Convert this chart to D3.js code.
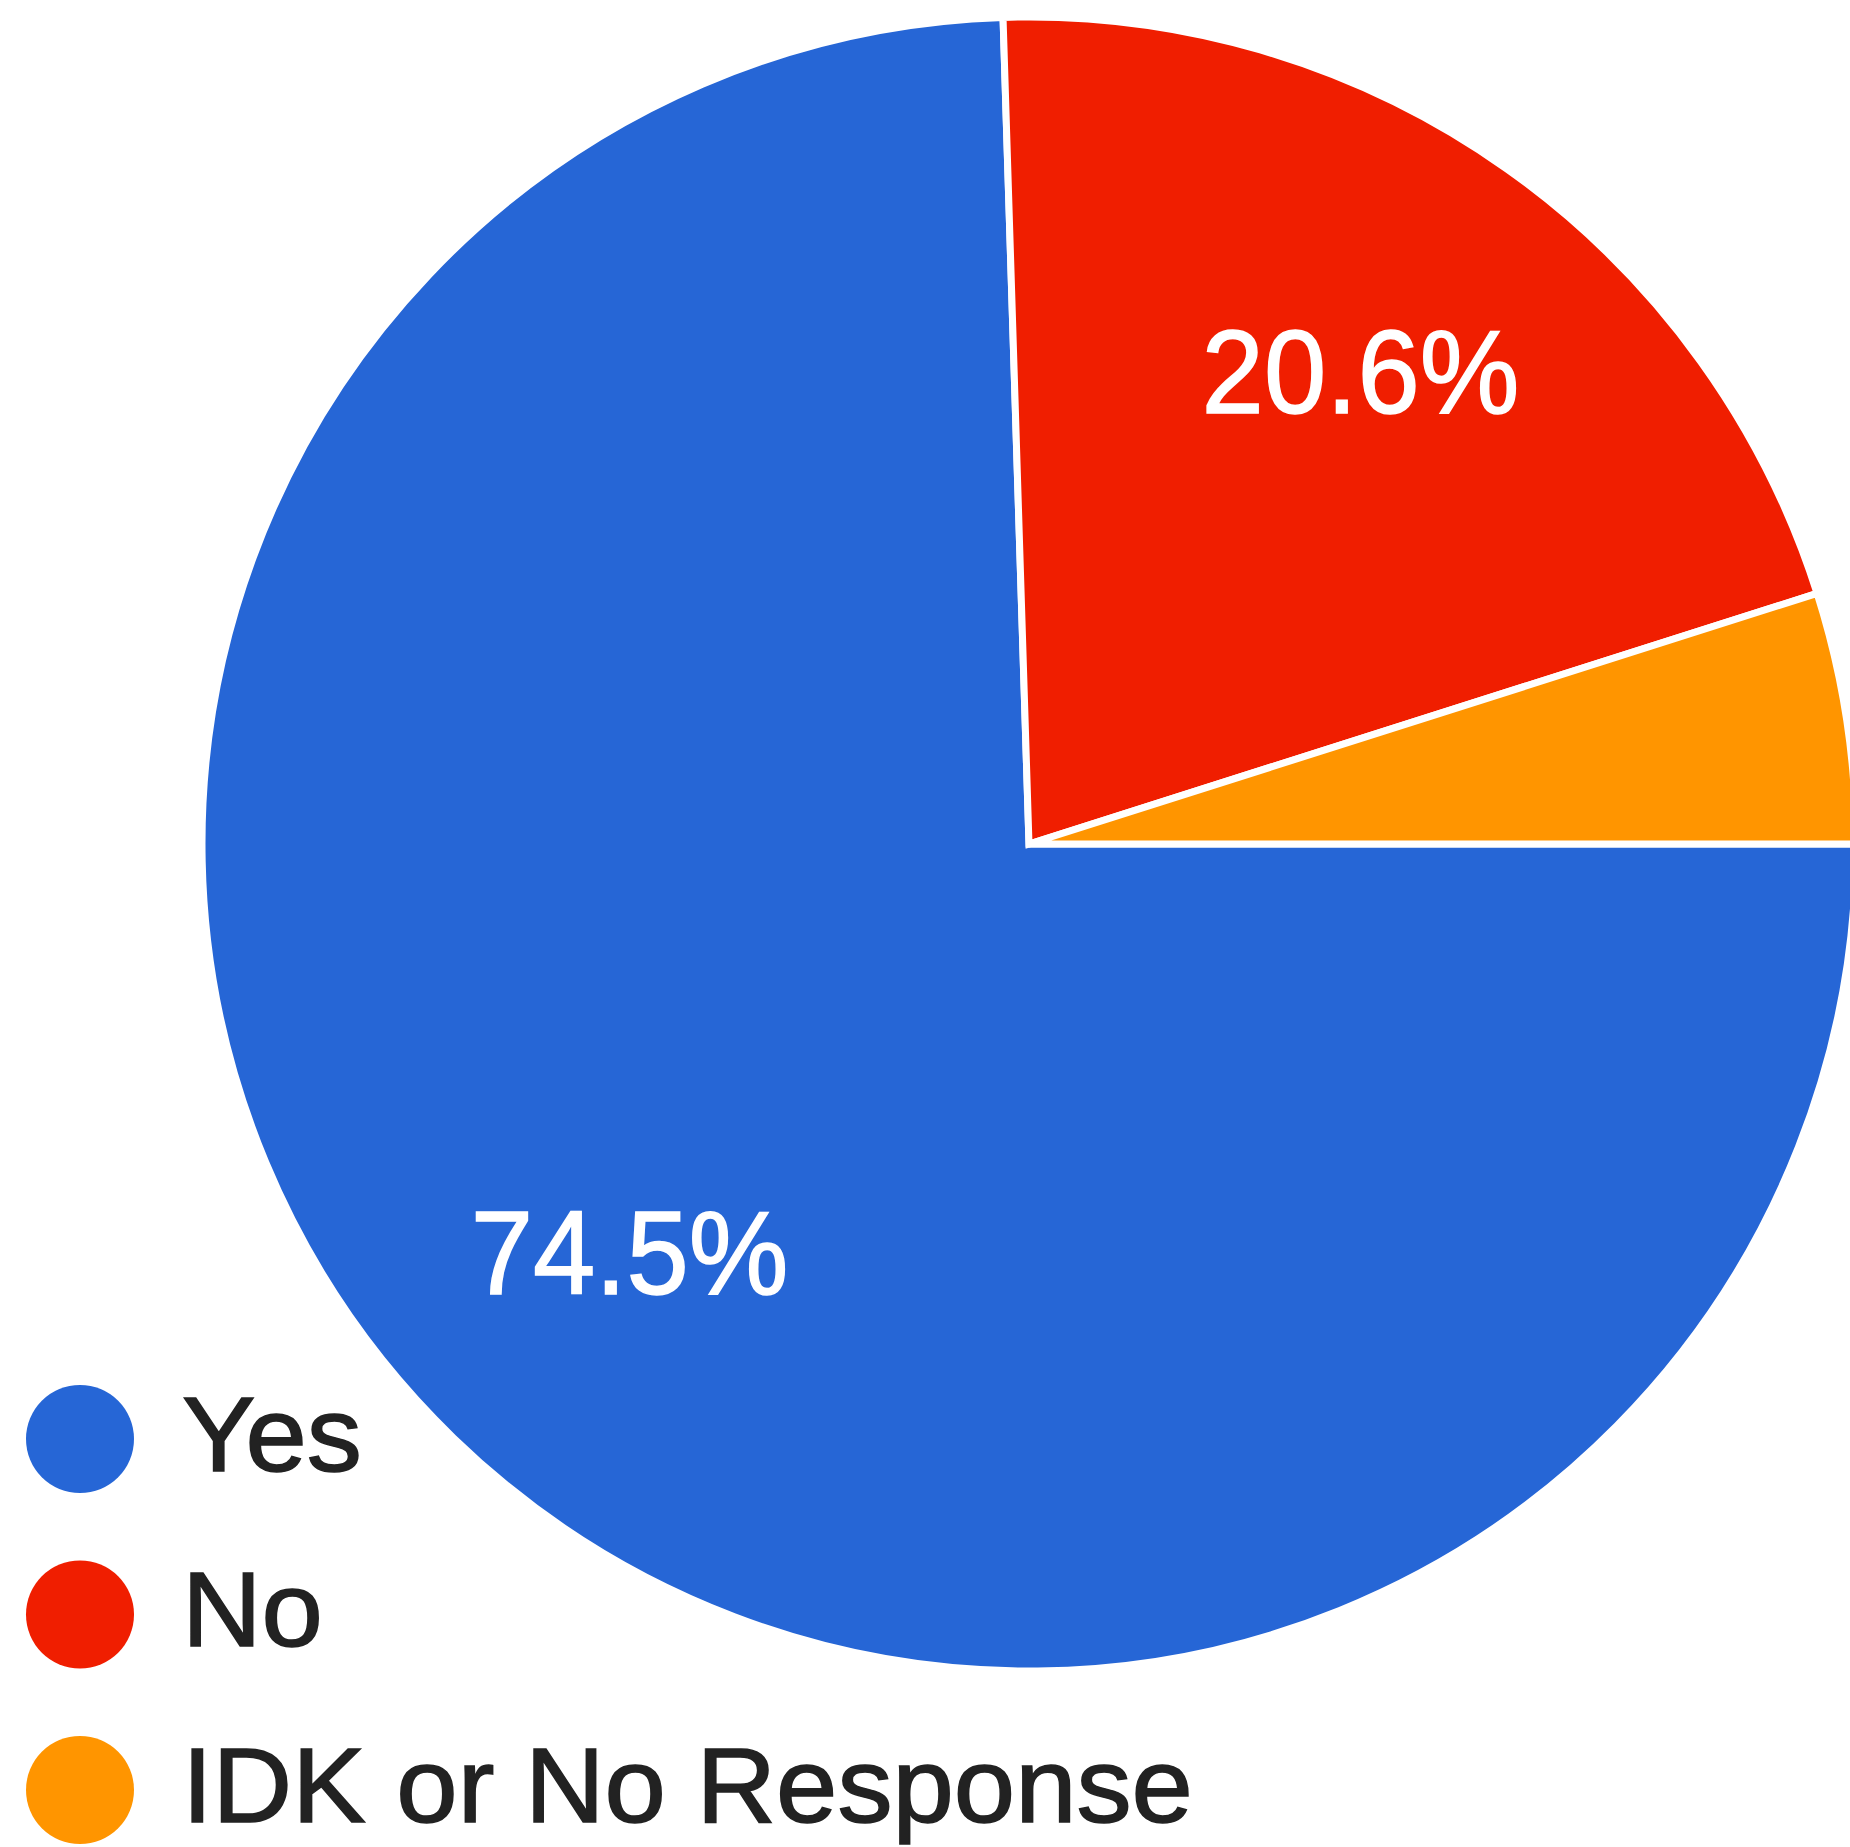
<!DOCTYPE html>
<html>
<head>
<meta charset="utf-8">
<script src="https://cdn.jsdelivr.net/npm/d3@7"></script>
<style>
  html, body { margin: 0; padding: 0; background: #ffffff; }
  svg { display: block; }
  text { font-family: "Liberation Sans", Arial, sans-serif; }
</style>
</head>
<body>
<script>
// Survey answers and their shares (percent)
const categories = ["Yes", "No", "IDK or No Response"];
const values = [74.5, 20.6, 4.9];
const colors = ["#2666d6", "#f01e00", "#ff9500"];
const sliceLabels = ["74.5%", "20.6%", null];

const width = 1850, height = 1847;
const cx = 1029, cy = 844, radius = 827;

const svg = d3.select("body").append("svg")
  .attr("width", width)
  .attr("height", height);

const pie = d3.pie()
  .sort(null)
  .value(d => d)
  .startAngle(Math.PI / 2)
  .endAngle(Math.PI / 2 + 2 * Math.PI);

const arcs = pie(values);

const arc = d3.arc().innerRadius(0).outerRadius(radius);
const labelArc = d3.arc().innerRadius(574).outerRadius(574);

const g = svg.append("g").attr("transform", `translate(${cx},${cy})`);

g.selectAll("path.slice")
  .data(arcs)
  .join("path")
  .attr("class", "slice")
  .attr("d", arc)
  .attr("fill", (d, i) => colors[i])
  .attr("stroke", "#ffffff")
  .attr("stroke-width", 7)
  .attr("stroke-linejoin", "miter");

g.selectAll("text.pct")
  .data(arcs.filter((d, i) => sliceLabels[i]))
  .join("text")
  .attr("class", "pct")
  .attr("transform", d => {
    const [x, y] = labelArc.centroid(d);
    return `translate(${x},${y}) scale(0.95,1)`;
  })
  .attr("text-anchor", "middle")
  .attr("dy", "0.32em")
  .attr("fill", "#ffffff")
  .attr("stroke", "#ffffff")
  .attr("stroke-width", 1.5)
  .attr("font-size", 118)
  .text(d => sliceLabels[d.index]);

// Legend
const legendY = d3.scalePoint()
  .domain(categories)
  .range([1439, 1790]);

const legend = svg.append("g");
const rows = legend.selectAll("g.row")
  .data(categories)
  .join("g")
  .attr("class", "row")
  .attr("transform", d => `translate(0,${legendY(d)})`);

rows.append("circle")
  .attr("cx", 80)
  .attr("cy", 0)
  .attr("r", 54)
  .attr("fill", (d, i) => colors[i]);

rows.append("text")
  .attr("transform", "translate(182,0) scale(1.04,1)")
  .attr("dy", "0.3em")
  .attr("fill", "#222222")
  .attr("stroke", "#222222")
  .attr("stroke-width", 1.5)
  .attr("font-size", 106)
  .text(d => d);
</script>
</body>
</html>
